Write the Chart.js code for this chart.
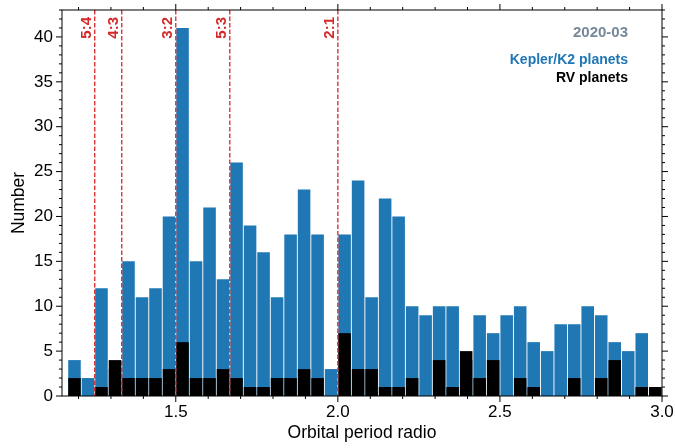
<!DOCTYPE html>
<html>
<head>
<meta charset="utf-8">
<script src="https://cdn.jsdelivr.net/npm/chart.js@4.4.1/dist/chart.umd.min.js"></script>
<style>
  html, body { margin: 0; padding: 0; background: #fff; }
  #wrap { width: 675px; height: 448px; }
</style>
</head>
<body>
<div id="wrap"><canvas id="hist"></canvas></div>
<script>
// histogram bins: 44 bins of width 1/24 starting at 7/6
const binStart = 7 / 6;
const binWidth = 1 / 24;

const keplerCounts = [4, 2, 12, 3, 15, 11, 12, 20, 41, 15,
  21, 13, 26, 19, 16, 11, 18, 23, 18, 3,
  18, 24, 11, 22, 20, 10, 9, 10, 10, 4,
  9, 7, 9, 10, 6, 5, 8, 8, 10, 9,
  6, 5, 7, 1];
const rvCounts = [2, 0, 1, 4, 2, 2, 2, 3, 6, 2,
  2, 3, 2, 1, 1, 2, 2, 3, 2, 0,
  7, 3, 3, 1, 1, 2, 0, 4, 1, 5,
  2, 4, 0, 2, 1, 0, 0, 2, 0, 2,
  4, 0, 1, 1];

const resonanceLabels = ['5:4', '4:3', '3:2', '5:3', '2:1'];
const resonanceValues = [5 / 4, 4 / 3, 3 / 2, 5 / 3, 2];

const xTicks = [1.5, 2.0, 2.5, 3.0];
const yTicks = [0, 5, 10, 15, 20, 25, 30, 35, 40];

const FONT = '"Liberation Sans", Arial, sans-serif';
Chart.defaults.font.family = FONT;
Chart.defaults.color = '#000';

function toPoints(counts) {
  return counts.map((v, i) => ({ x: binStart + (i + 0.5) * binWidth, y: v }));
}

// frame, outward ticks on all four sides, resonance lines and the text box
const decorations = {
  id: 'decorations',
  afterDatasetsDraw(chart) {
    const ctx = chart.ctx;
    const x = chart.scales.x;
    const area = chart.chartArea;
    ctx.save();
    ctx.strokeStyle = '#d62728';
    ctx.lineWidth = 1.3;
    ctx.setLineDash([4.5, 2]);
    resonanceValues.forEach((r, i) => {
      const px = x.getPixelForValue(r);
      ctx.beginPath();
      ctx.moveTo(px, area.top);
      ctx.lineTo(px, area.bottom);
      ctx.stroke();
      ctx.save();
      ctx.translate(px - 4, area.top + 7);
      ctx.rotate(-Math.PI / 2);
      ctx.fillStyle = '#d62728';
      ctx.font = 'bold 15px ' + FONT;
      ctx.textAlign = 'right';
      ctx.textBaseline = 'alphabetic';
      ctx.fillText(resonanceLabels[i], 0, 0);
      ctx.restore();
    });
    ctx.restore();
  },
  afterDraw(chart) {
    const ctx = chart.ctx;
    const x = chart.scales.x, y = chart.scales.y;
    const a = chart.chartArea;
    ctx.save();
    ctx.strokeStyle = '#000';
    ctx.lineWidth = 1;
    ctx.strokeRect(a.left, a.top, a.right - a.left, a.bottom - a.top);

    const tick = (x1, y1, x2, y2) => {
      ctx.beginPath(); ctx.moveTo(x1, y1); ctx.lineTo(x2, y2); ctx.stroke();
    };
    // x ticks
    for (let v = 1.2; v < 3.0001; v += 0.1) {
      const major = xTicks.some(t => Math.abs(t - v) < 1e-6);
      const len = major ? 6 : 3;
      const px = x.getPixelForValue(v);
      tick(px, a.bottom, px, a.bottom + len);
      tick(px, a.top, px, a.top - len);
    }
    // y ticks
    for (let v = 0; v <= 43; v++) {
      const len = v % 5 === 0 ? 6 : 3;
      const py = y.getPixelForValue(v);
      tick(a.left, py, a.left - len, py);
      tick(a.right, py, a.right + len, py);
    }

    ctx.textAlign = 'right';
    ctx.textBaseline = 'alphabetic';
    ctx.font = 'bold 15px ' + FONT;
    ctx.fillStyle = '#778899';
    ctx.fillText('2020-03', 628, 36.5);
    ctx.font = 'bold 14px ' + FONT;
    ctx.fillStyle = '#1f77b4';
    ctx.fillText('Kepler/K2 planets', 628, 64);
    ctx.fillStyle = '#000';
    ctx.fillText('RV planets', 628, 82);
    ctx.restore();
  }
};

const ctx = document.getElementById('hist').getContext('2d');
const chart = new Chart(ctx, {
  type: 'bar',
  data: {
    datasets: [{
      label: 'RV planets',
      data: toPoints(rvCounts),
      backgroundColor: '#000000',
      order: 0
    }, {
      label: 'Kepler/K2 planets',
      data: toPoints(keplerCounts),
      backgroundColor: '#1f77b4',
      order: 1
    }]
  },
  options: {
    responsive: true,
    maintainAspectRatio: false,
    animation: false,
    layout: { padding: { top: 10, right: 13, left: 0, bottom: 0 } },
    datasets: {
      bar: {
        grouped: false,
        barPercentage: 0.93,
        categoryPercentage: 1,
        borderWidth: 0
      }
    },
    plugins: {
      legend: { display: false },
      tooltip: { enabled: false }
    },
    scales: {
      x: {
        type: 'linear',
        min: 1.149,
        max: 3.0,
        offset: false,
        grid: { display: false, drawTicks: false, offset: false },
        border: { display: false },
        afterBuildTicks: s => { s.ticks = xTicks.map(v => ({ value: v })); },
        afterFit: s => { s.height = 52; s.paddingLeft = 0; s.paddingRight = 0; },
        ticks: {
          padding: 6,
          font: { size: 17 },
          callback: v => Number(v).toFixed(1)
        },
        title: {
          display: true,
          text: 'Orbital period radio',
          font: { size: 17.5 },
          padding: { top: 0, bottom: 4 }
        }
      },
      y: {
        min: 0,
        max: 43,
        grid: { display: false, drawTicks: false },
        border: { display: false },
        afterBuildTicks: s => { s.ticks = yTicks.map(v => ({ value: v })); },
        afterFit: s => { s.width = 62; s.paddingTop = 0; s.paddingBottom = 0; },
        ticks: {
          padding: 9,
          font: { size: 17 }
        },
        title: {
          display: true,
          text: 'Number',
          font: { size: 17.5 },
          padding: { top: 9, bottom: 0 }
        }
      }
    }
  },
  plugins: [decorations]
});
</script>
</body>
</html>
